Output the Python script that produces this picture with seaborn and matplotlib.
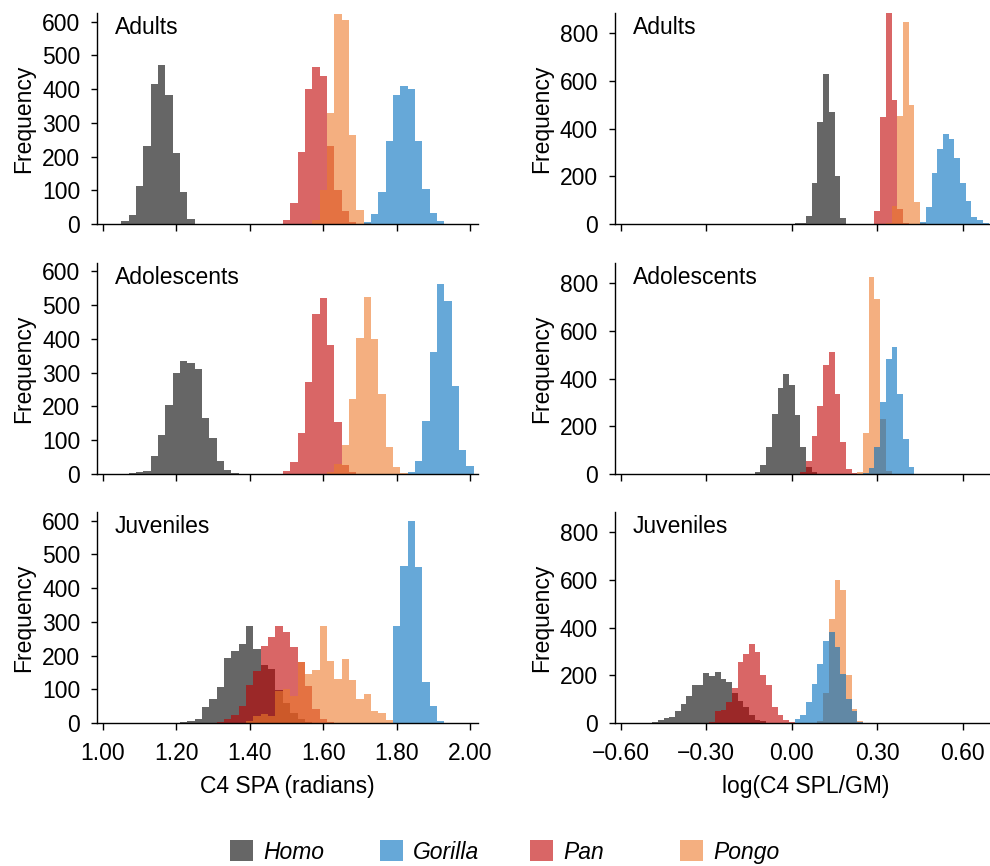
import numpy as np
import pandas as pd
import matplotlib
matplotlib.use('Agg')
import matplotlib.pyplot as plt
import matplotlib.ticker as mtick
from matplotlib.patches import Patch
import seaborn as sns

# Bin counts (bin width 0.02, first value = bin starting at *_LO)
# --- C4 SPA (radians) ---
SPA_ADULT_HOMO_LO = 1.05
SPA_ADULT_HOMO = [8, 27, 114, 232, 415, 470, 381, 209, 96, 15]
SPA_ADULT_PAN_LO = 1.49
SPA_ADULT_PAN = [12, 61, 212, 401, 465, 438, 232, 100, 39, 5]
SPA_ADULT_PONGO_LO = 1.57
SPA_ADULT_PONGO = [12, 100, 329, 623, 605, 265, 41, 3]
SPA_ADULT_GORILLA_LO = 1.71
SPA_ADULT_GORILLA = [6, 31, 95, 246, 383, 410, 401, 246, 104, 34, 9]

SPA_ADOL_HOMO_LO = 1.07
SPA_ADOL_HOMO = [2, 5, 9, 52, 114, 204, 298, 336, 329, 310, 166, 108, 38, 11, 3]
SPA_ADOL_PAN_LO = 1.49
SPA_ADOL_PAN = [8, 35, 122, 271, 473, 521, 381, 153, 28, 5]
SPA_ADOL_PONGO_LO = 1.61
SPA_ADOL_PONGO = [5, 30, 87, 223, 403, 525, 401, 236, 81, 20, 3]
SPA_ADOL_GORILLA_LO = 1.83
SPA_ADOL_GORILLA = [6, 39, 158, 362, 563, 511, 260, 70, 24]

SPA_JUV_HOMO_LO = 1.21
SPA_JUV_HOMO = [2, 6, 13, 47, 70, 107, 192, 212, 233, 288, 220, 173, 159, 97,
                60, 30, 12, 3]
SPA_JUV_PAN_LO = 1.31
SPA_JUV_PAN = [4, 13, 25, 50, 112, 153, 227, 255, 286, 271, 226, 180, 110, 41,
               13, 3]
SPA_JUV_PONGO_LO = 1.39
SPA_JUV_PONGO = [5, 22, 28, 22, 95, 100, 80, 182, 145, 158, 286, 185, 131, 190,
                 128, 71, 85, 37, 30, 10]
SPA_JUV_GORILLA_LO = 1.79
SPA_JUV_GORILLA = [288, 464, 598, 463, 123, 51, 7]

# --- log(C4 SPL/GM) ---
SPL_ADULT_HOMO_LO = 0.01
SPL_ADULT_HOMO = [3, 6, 34, 172, 429, 629, 470, 200, 25]
SPL_ADULT_PAN_LO = 0.29
SPL_ADULT_PAN = [53, 448, 884, 520, 64, 5]
SPL_ADULT_PONGO_LO = 0.33
SPL_ADULT_PONGO = [5, 75, 453, 849, 498, 91, 3]
SPL_ADULT_GORILLA_LO = 0.45
SPL_ADULT_GORILLA = [10, 71, 213, 316, 378, 355, 278, 172, 95, 28, 15, 3]

SPL_ADOL_HOMO_LO = -0.13
SPL_ADOL_HOMO = [10, 38, 112, 253, 362, 421, 372, 248, 112, 28, 8]
SPL_ADOL_PAN_LO = 0.03
SPL_ADOL_PAN = [10, 53, 159, 286, 456, 511, 334, 136, 21, 3]
SPL_ADOL_PONGO_LO = 0.23
SPL_ADOL_PONGO = [7, 171, 825, 733, 232, 14]
SPL_ADOL_GORILLA_LO = 0.25
SPL_ADOL_GORILLA = [3, 25, 112, 302, 484, 533, 334, 146, 28]

SPL_JUV_HOMO_LO = -0.49
SPL_JUV_HOMO = [4, 14, 22, 25, 52, 81, 112, 159, 158, 209, 198, 214, 186, 172,
                125, 94, 66, 35, 14, 7]
SPL_JUV_PAN_LO = -0.29
SPL_JUV_PAN = [5, 50, 55, 90, 145, 254, 290, 331, 296, 200, 159, 67, 34, 11, 4]
SPL_JUV_PONGO_LO = 0.09
SPL_JUV_PONGO = [10, 125, 437, 598, 559, 203, 60, 8]
SPL_JUV_GORILLA_LO = 0.01
SPL_JUV_GORILLA = [17, 32, 88, 165, 249, 346, 380, 321, 207, 102, 50, 3]

species = ['Homo', 'Gorilla', 'Pan', 'Pongo']
draw_order = ['Homo', 'Pan', 'Pongo', 'Gorilla']
colors = {'Homo': '#000000', 'Gorilla': '#006ebe',
          'Pan': '#c00000', 'Pongo': '#ed7b2b'}
ages = ['Adults', 'Adolescents', 'Juveniles']

panels = {
    ('spa', 'Adults'): {'Homo': (SPA_ADULT_HOMO_LO, SPA_ADULT_HOMO),
                        'Pan': (SPA_ADULT_PAN_LO, SPA_ADULT_PAN),
                        'Pongo': (SPA_ADULT_PONGO_LO, SPA_ADULT_PONGO),
                        'Gorilla': (SPA_ADULT_GORILLA_LO, SPA_ADULT_GORILLA)},
    ('spa', 'Adolescents'): {'Homo': (SPA_ADOL_HOMO_LO, SPA_ADOL_HOMO),
                             'Pan': (SPA_ADOL_PAN_LO, SPA_ADOL_PAN),
                             'Pongo': (SPA_ADOL_PONGO_LO, SPA_ADOL_PONGO),
                             'Gorilla': (SPA_ADOL_GORILLA_LO, SPA_ADOL_GORILLA)},
    ('spa', 'Juveniles'): {'Homo': (SPA_JUV_HOMO_LO, SPA_JUV_HOMO),
                           'Pan': (SPA_JUV_PAN_LO, SPA_JUV_PAN),
                           'Pongo': (SPA_JUV_PONGO_LO, SPA_JUV_PONGO),
                           'Gorilla': (SPA_JUV_GORILLA_LO, SPA_JUV_GORILLA)},
    ('spl', 'Adults'): {'Homo': (SPL_ADULT_HOMO_LO, SPL_ADULT_HOMO),
                        'Pan': (SPL_ADULT_PAN_LO, SPL_ADULT_PAN),
                        'Pongo': (SPL_ADULT_PONGO_LO, SPL_ADULT_PONGO),
                        'Gorilla': (SPL_ADULT_GORILLA_LO, SPL_ADULT_GORILLA)},
    ('spl', 'Adolescents'): {'Homo': (SPL_ADOL_HOMO_LO, SPL_ADOL_HOMO),
                             'Pan': (SPL_ADOL_PAN_LO, SPL_ADOL_PAN),
                             'Pongo': (SPL_ADOL_PONGO_LO, SPL_ADOL_PONGO),
                             'Gorilla': (SPL_ADOL_GORILLA_LO, SPL_ADOL_GORILLA)},
    ('spl', 'Juveniles'): {'Homo': (SPL_JUV_HOMO_LO, SPL_JUV_HOMO),
                           'Pan': (SPL_JUV_PAN_LO, SPL_JUV_PAN),
                           'Pongo': (SPL_JUV_PONGO_LO, SPL_JUV_PONGO),
                           'Gorilla': (SPL_JUV_GORILLA_LO, SPL_JUV_GORILLA)},
}

# Long table: one row per bin (centre + count)
rows = []
for (var, age), d in panels.items():
    for sp, (lo, counts) in d.items():
        for i, c in enumerate(counts):
            rows.append((var, age, sp, round(lo + 0.01 + 0.02 * i, 3), c))
df = pd.DataFrame(rows, columns=['var', 'age', 'species', 'x', 'count'])

sns.set_style('ticks')
plt.rcParams['font.family'] = ['Liberation Sans', 'DejaVu Sans']
plt.rcParams['axes.unicode_minus'] = True
plt.rcParams['text.color'] = 'black'
plt.rcParams['axes.labelcolor'] = 'black'
FS = 16.5

cfg = {
    'spa': dict(edges=np.round(np.arange(0.99, 2.031, 0.02), 3).tolist(),
                xlim=(0.984, 2.022), xticks=np.arange(1.0, 2.01, 0.2),
                ylim=(0, 625), yticks=range(0, 601, 100),
                xlabel='C4 SPA (radians)', left=0.098),
    'spl': dict(edges=np.round(np.arange(-0.63, 0.731, 0.02), 3).tolist(),
                xlim=(-0.621, 0.716), xticks=np.arange(-0.6, 0.61, 0.3),
                ylim=(0, 885), yticks=range(0, 801, 200),
                xlabel='log(C4 SPL/GM)', left=0.621),
}
row_bottom = {'Adults': 0.7413, 'Adolescents': 0.4527, 'Juveniles': 0.1651}

fmt = mtick.FuncFormatter(lambda v, p: f'{v:.2f}'.replace('-', '\u2212'))

fig = plt.figure(figsize=(9.9, 8.66), dpi=100)
for var, c in cfg.items():
    for age in ages:
        ax = fig.add_axes([c['left'], row_bottom[age], 0.385, 0.2436])
        sub = df[(df['var'] == var) & (df['age'] == age)]
        for sp in draw_order:
            s = sub[sub['species'] == sp]
            sns.histplot(data=s, x='x', weights='count', bins=c['edges'],
                         color=colors[sp], alpha=0.6, linewidth=0, ax=ax)
        ax.set_xlim(*c['xlim'])
        ax.set_ylim(*c['ylim'])
        ax.set_xticks(c['xticks'])
        ax.set_yticks(list(c['yticks']))
        ax.xaxis.set_major_formatter(fmt)
        ax.tick_params(labelsize=FS, length=4, width=1, colors='black')
        ax.tick_params(axis='x', length=5, pad=9)
        ax.tick_params(axis='y', pad=8)
        sns.despine(ax=ax)
        for sp_ in ['left', 'bottom']:
            ax.spines[sp_].set_color('black')
            ax.spines[sp_].set_linewidth(1)
        ax.set_ylabel('Frequency', fontsize=FS, labelpad=5)
        if age == 'Juveniles':
            ax.set_xlabel(c['xlabel'], fontsize=FS, labelpad=7)
        else:
            ax.set_xlabel('')
            ax.tick_params(axis='x', labelbottom=False)
        ax.text(0.047, 0.93, age, transform=ax.transAxes, fontsize=FS,
                va='center', ha='left', color='black')

# legend entries at evenly spaced positions along the bottom
for sp, xpos in zip(species, [230, 380, 530, 680]):
    h = Patch(facecolor=colors[sp], alpha=0.6, linewidth=0)
    fig.legend([h], [sp], loc='center left', bbox_to_anchor=(xpos / 990, 0.0162),
               frameon=False, prop={'style': 'italic', 'size': FS},
               handlelength=1.0, handleheight=1.0, handletextpad=0.45,
               borderpad=0, borderaxespad=0)

fig.savefig('out.png', dpi=100)
